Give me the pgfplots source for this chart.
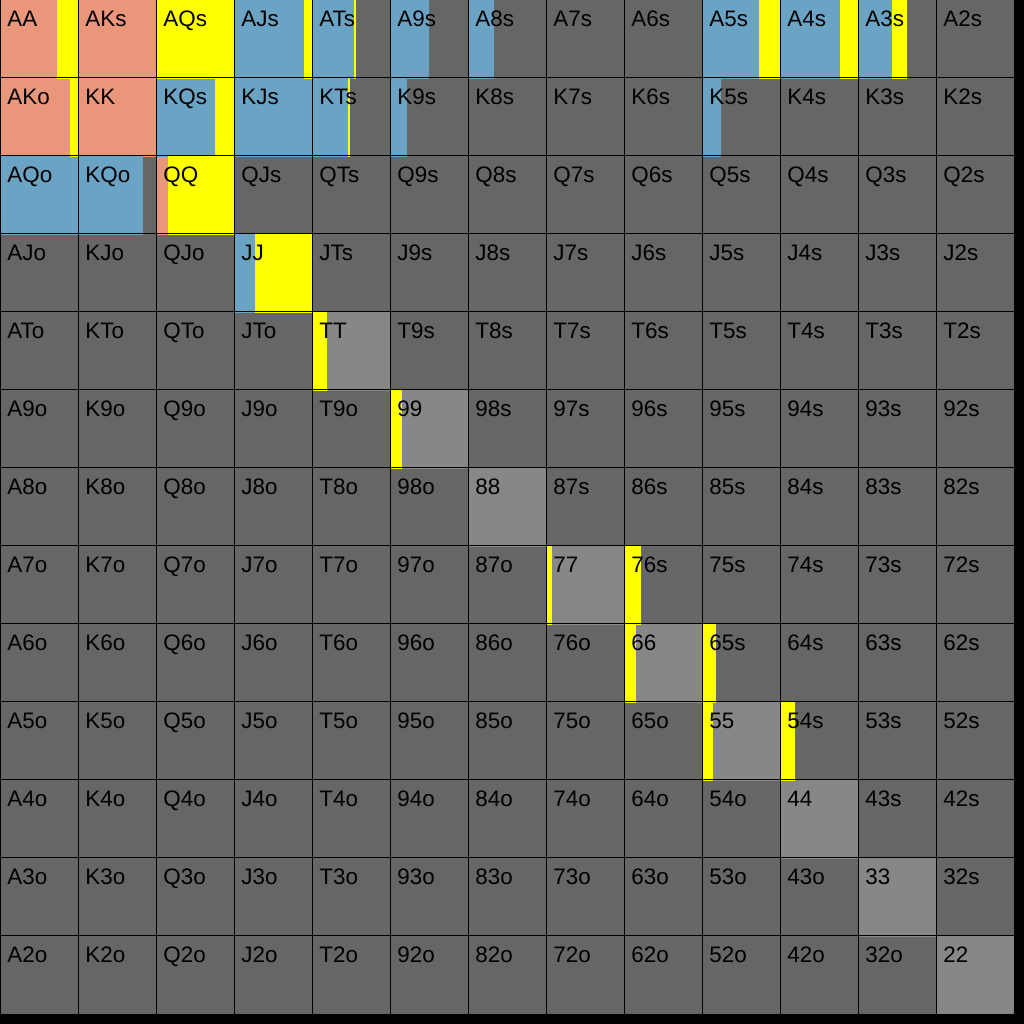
\documentclass[border=0pt]{standalone}
\usepackage{pgfplots}
\pgfplotsset{compat=1.18}
\usepackage{fontspec}
\setmainfont{Liberation Sans}
\definecolor{rsalmon}{HTML}{E9967A}
\definecolor{rblue}{HTML}{6BA3C5}
\definecolor{ryellow}{HTML}{FFFF00}
\definecolor{dgray}{HTML}{666666}
\definecolor{lgray}{HTML}{878787}
\newcommand\lbl{\fontsize{11.2}{12}\selectfont}
\pgfplotsset{
  seg/.style={scatter, only marks, mark=*, mark size=0pt,
    visualization depends on={\thisrow{w} \as \wid},
    scatter/@pre marker code/.code={\fill[#1] (0pt,0pt) rectangle ({\wid*39pt},-39pt);\scope[opacity=0]},
    scatter/@post marker code/.code={\endscope},
  }
}
% pairs (light gray background)
\pgfplotstableread[row sep=\\]{
x r w \\
0 0 1 \\ 1 1 1 \\ 2 2 1 \\ 3 3 1 \\ 4 4 1 \\ 5 5 1 \\ 6 6 1 \\
7 7 1 \\ 8 8 1 \\ 9 9 1 \\ 10 10 1 \\ 11 11 1 \\ 12 12 1 \\
}\pairs
\pgfplotstableread[row sep=\\]{
x r w \\
0 0 0.73 \\
1 0 1 \\
0 1 0.90 \\
1 1 1 \\
2 2 0.16 \\
}\salmon
\pgfplotstableread[row sep=\\]{
x r w \\
3 0 0.90 \\
4 0 0.54 \\
5 0 0.49 \\
6 0 0.33 \\
9 0 0.73 \\
10 0 0.77 \\
11 0 0.44 \\
2 1 0.76 \\
3 1 1 \\
4 1 0.465 \\
5 1 0.21 \\
9 1 0.23 \\
0 2 1 \\
1 2 0.82 \\
3 3 0.27 \\
}\blue
\pgfplotstableread[row sep=\\]{
x r w \\
0.73 0 0.27 \\
2 0 1 \\
3.90 0 0.10 \\
4.54 0 0.015 \\
9.73 0 0.27 \\
10.77 0 0.23 \\
11.44 0 0.18 \\
0.90 1 0.10 \\
2.76 1 0.24 \\
4.465 1 0.015 \\
2.16 2 0.84 \\
3.27 3 0.73 \\
4 4 0.18 \\
5 5 0.15 \\
7 7 0.065 \\
8 7 0.205 \\
8 8 0.14 \\
9 8 0.175 \\
9 9 0.13 \\
10 9 0.19 \\
}\yellow
\begin{document}
\begin{tikzpicture}
\begin{axis}[
  set layers,
  scale only axis, width=512pt, height=512pt,
  xmin=0, xmax=13.128205, ymin=0, ymax=13.128205, y dir=reverse,
  axis background/.style={fill=black},
  axis line style={draw=none},
  xtick={0,...,13}, ytick={0,...,13},
  xticklabels={}, yticklabels={},
  major tick length=0pt,
  grid=major, major grid style={black, line width=0.5pt},
  axis on top,
]
\fill[dgray] (axis cs:0,0) rectangle (axis cs:13,13);
\addplot[seg=lgray] table[x=x,y=r] {\pairs};
\addplot[seg=rsalmon] table[x=x,y=r] {\salmon};
\addplot[seg=rblue] table[x=x,y=r] {\blue};
\addplot[seg=ryellow] table[x=x,y=r] {\yellow};
\begin{pgfonlayer}{axis foreground}
\foreach \rk [count=\ri from 0] in {A,K,Q,J,T,9,8,7,6,5,4,3,2} {
  \foreach \ck [count=\ci from 0] in {A,K,Q,J,T,9,8,7,6,5,4,3,2} {
    \ifnum\ri=\ci \edef\lab{\rk\ck}\else
      \ifnum\ci>\ri \edef\lab{\rk\ck s}\else \edef\lab{\ck\rk o}\fi\fi
    \edef\tmp{\noexpand\node[anchor=base west, inner sep=0pt, text=black, font=\noexpand\lbl] at (axis cs:\ci+0.09,\ri+0.335) {\lab};}
    \tmp
  }
}
\end{pgfonlayer}
\end{axis}
\pgfresetboundingbox
\useasboundingbox (current axis.south west) rectangle (current axis.north east);
\end{tikzpicture}
\end{document}
